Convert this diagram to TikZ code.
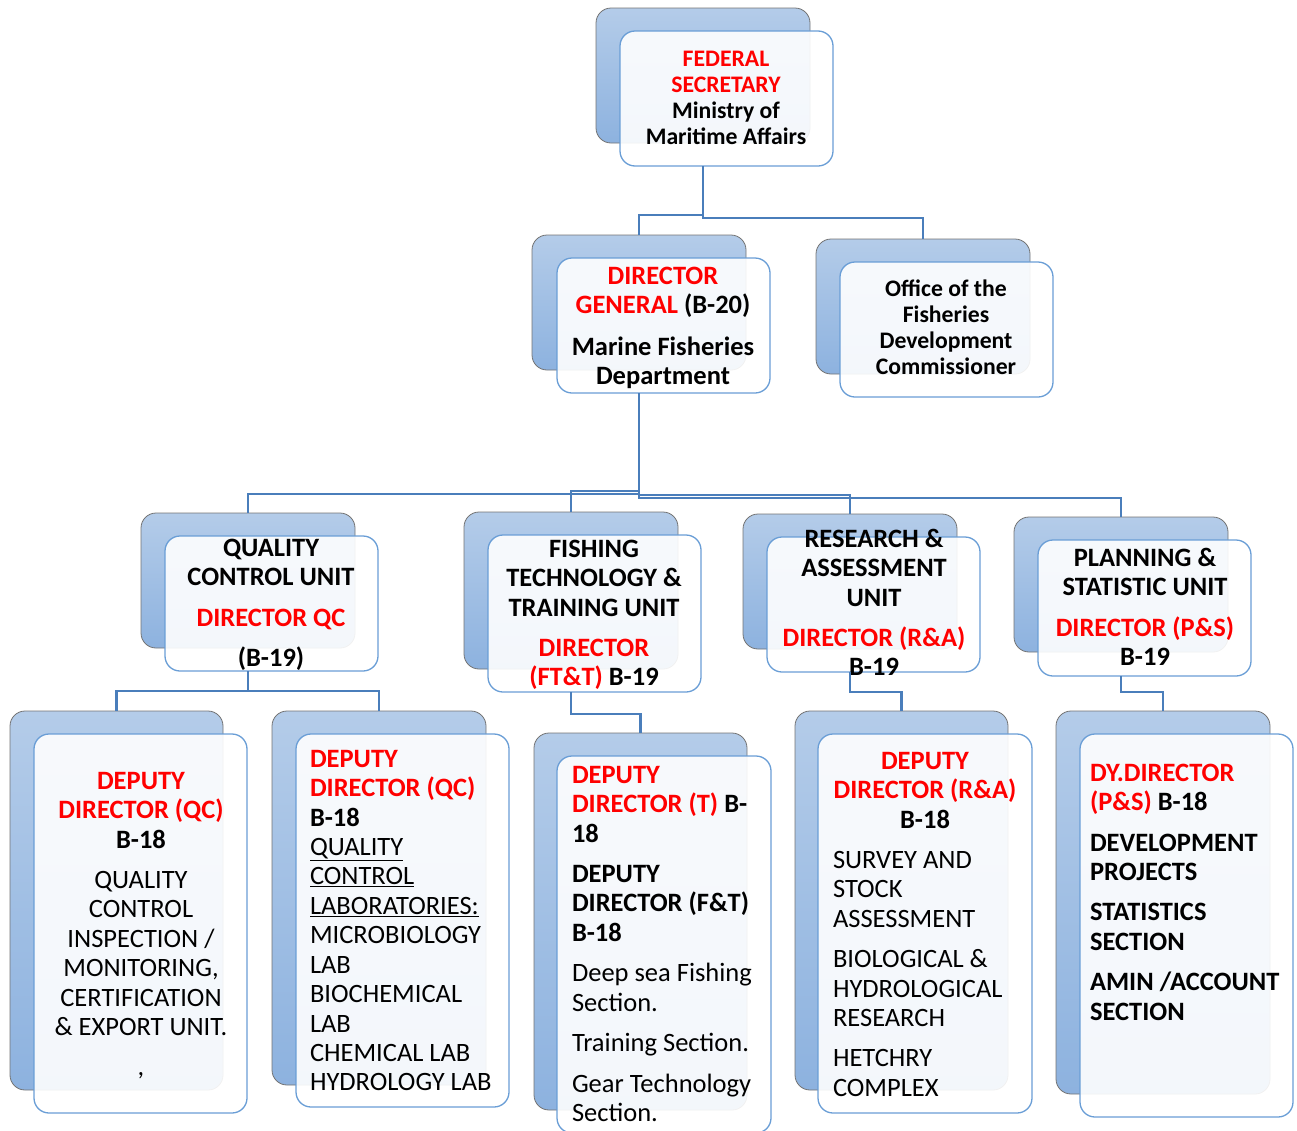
\documentclass[tikz,border=0pt]{standalone}
\usepackage{fontspec}
\setmainfont{Carlito}
\usepackage{xcolor}
\usepackage{tikz}
\definecolor{shtop}{HTML}{B4CCE9}
\definecolor{shbot}{HTML}{8DB2DF}
\definecolor{frline}{HTML}{6A9ED6}
\definecolor{linkc}{HTML}{4A7EBB}
\newcommand{\redtxt}[1]{\textcolor{red}{#1}}

\begin{document}
\begin{tikzpicture}[x=1pt,y=-1pt,
  shadowbox/.style={draw=black!55, line width=0.8pt, rounded corners=15pt, top color=shtop, bottom color=shbot, minimum width=214pt, inner sep=0pt, outer sep=0pt},
  frontbox/.style={draw=frline, line width=1.3pt, rounded corners=15pt, fill=white, fill opacity=0.9, minimum width=213pt, inner sep=0pt, outer sep=0pt},
  txtL/.style={font=\fontsize{26.5}{29.4}\selectfont, inner sep=0pt, outer sep=0pt},
  boldL/.style={font=\fontsize{26.5}{29.4}\selectfont\bfseries, inner sep=0pt, outer sep=0pt},
  boldS/.style={font=\fontsize{23.7}{26}\selectfont\bfseries, inner sep=0pt, outer sep=0pt},
  link/.style={draw=linkc, line width=2.4pt}]
\useasboundingbox (0,0) rectangle (1297,1130);
\clip (0,0) rectangle (1297,1130);

% top level
\node[shadowbox, minimum height=135pt] (fedS) at (703,75.5) {};
\node[frontbox, minimum height=135pt] (fed) at (726.5,98.5) {};
\node[boldS, anchor=north, align=center] (fedT) at (726,48.3) {\strut\redtxt{FEDERAL}\\\redtxt{SECRETARY}\\Ministry of\\Maritime Affairs};

% second level
\node[shadowbox, minimum height=135pt] (dgS) at (639,302.5) {};
\node[frontbox, minimum height=135pt] (dg) at (663.5,325.5) {};
\node[boldL, anchor=north, align=center] (dgT) at (663,263.8) {\strut\redtxt{DIRECTOR}\\\redtxt{GENERAL} (B-20)\\[12pt]Marine Fisheries\\Department};

\node[shadowbox, minimum height=135pt] (offS) at (923,306.5) {};
\node[frontbox, minimum height=135pt] (off) at (946.5,329.5) {};
\node[boldS, anchor=north, align=center] (offT) at (946,278.3) {\strut Office of the\\Fisheries\\Development\\Commissioner};

% units
\node[shadowbox, minimum height=135pt] (qcS) at (248,580.5) {};
\node[frontbox, minimum height=135pt] (qc) at (271.5,603.5) {};
\node[boldL, anchor=north, align=center] (qcT) at (271,535.8) {\strut QUALITY\\CONTROL UNIT\\[11pt]\redtxt{DIRECTOR QC}\\[11pt](B-19)};

\node[shadowbox, minimum height=157pt] (ftS) at (571,590.5) {};
\node[frontbox, minimum height=157pt] (ft) at (594.5,613.5) {};
\node[boldL, anchor=north, align=center] (ftT) at (594,536.8) {\strut FISHING\\TECHNOLOGY \&\\TRAINING UNIT\\[11pt]\redtxt{DIRECTOR}\\\redtxt{(FT\&T)} B-19};

\node[shadowbox, minimum height=135pt] (raS) at (850,581.5) {};
\node[frontbox, minimum height=135pt] (ra) at (873.5,604.5) {};
\node[boldL, anchor=north, align=center] (raT) at (874,526.8) {\strut RESEARCH \&\\ASSESSMENT\\UNIT\\[11pt]\redtxt{DIRECTOR (R\&A)}\\B-19};

\node[shadowbox, minimum height=135pt] (psS) at (1121,584.5) {};
\node[frontbox, minimum height=136pt] (ps) at (1144.5,608) {};
\node[boldL, anchor=north, align=center] (psT) at (1145,545.8) {\strut PLANNING \&\\STATISTIC UNIT\\[11pt]\redtxt{DIRECTOR (P\&S)}\\B-19};

% deputy directors
\node[shadowbox, minimum width=213pt, minimum height=379pt] (dq1S) at (116.5,900.5) {};
\node[frontbox, minimum height=379pt] (dq1) at (140.5,923.5) {};
\node[txtL, anchor=north, align=center] (dq1T) at (141,768.8) {\strut\textbf{\redtxt{DEPUTY}}\\\textbf{\redtxt{DIRECTOR (QC)}}\\\textbf{B-18}\\[11pt]QUALITY\\CONTROL\\INSPECTION /\\MONITORING,\\CERTIFICATION\\\& EXPORT UNIT.\\[11pt],};

\node[shadowbox, minimum height=374pt] (dq2S) at (379,898) {};
\node[frontbox, minimum height=373pt] (dq2) at (402.5,920.5) {};
\node[txtL, anchor=north west, align=left] (dq2T) at (310,746.8) {\strut\textbf{\redtxt{DEPUTY}}\\\textbf{\redtxt{DIRECTOR (QC)}}\\\textbf{B-18}\\\underline{QUALITY}\\\underline{CONTROL}\\\underline{LABORATORIES:}\\MICROBIOLOGY\\LAB\\BIOCHEMICAL\\LAB\\CHEMICAL LAB\\HYDROLOGY LAB};

\node[shadowbox, minimum width=213pt, minimum height=377pt] (ddtS) at (640.5,921.5) {};
\node[frontbox, minimum width=214pt, minimum height=377pt] (ddt) at (664,944.5) {};
\node[txtL, anchor=north west, align=left] (ddtT) at (572,762.8) {\strut\textbf{\redtxt{DEPUTY}}\\\textbf{\redtxt{DIRECTOR (T)} B-}\\\textbf{18}\\[11pt]\textbf{DEPUTY}\\\textbf{DIRECTOR (F\&T)}\\\textbf{B-18}\\[11pt]Deep sea Fishing\\Section.\\[11pt]Training Section.\\[11pt]Gear Technology\\Section.};

\node[shadowbox, minimum width=213pt, minimum height=379pt] (draS) at (901.5,900.5) {};
\node[frontbox, minimum width=214pt, minimum height=379pt] (dra) at (925,923.5) {};
\node[txtL, anchor=north, align=center] (draT) at (925,748.8) {\strut\textbf{\redtxt{DEPUTY}}\\\textbf{\redtxt{DIRECTOR (R\&A)}}\\\textbf{B-18}};
\node[txtL, anchor=north west, align=left] (draL) at (833,847.8) {\strut SURVEY AND\\STOCK\\ASSESSMENT\\[11pt]BIOLOGICAL \&\\HYDROLOGICAL\\RESEARCH\\[11pt]HETCHRY\\COMPLEX};

\node[shadowbox, minimum height=383pt] (dypS) at (1163,902.5) {};
\node[frontbox, minimum height=383pt] (dyp) at (1186.5,925.5) {};
\node[boldL, anchor=north west, align=left] (dypT) at (1090,760.8) {\strut\redtxt{DY.DIRECTOR}\\\redtxt{(P\&S)} B-18\\[11pt]DEVELOPMENT\\PROJECTS\\[11pt]STATISTICS\\SECTION\\[11pt]AMIN /ACCOUNT\\SECTION};

% connectors
\draw[link] (fedS.center |- fed.south) -- ++(0,49) -| (dgS.north);
\draw[link] (fedS.center |- fed.south) -- ++(0,52) -| (offS.north);
\draw[link] (dgS.center |- dg.south) -- ++(0,101) -| (qcS.north);
\draw[link] (dgS.center |- dg.south) -- ++(0,98) -| (ftS.north);
\draw[link] (dgS.center |- dg.south) -- ++(0,102) -| (raS.north);
\draw[link] (dgS.center |- dg.south) -- ++(0,105) -| (psS.north);
\draw[link] (qcS.center |- qc.south) -- ++(0,20) -| (dq1S.north);
\draw[link] (qcS.center |- qc.south) -- ++(0,20) -| (dq2S.north);
\draw[link] (ftS.center |- ft.south) -- ++(0,22) -| (ddtS.north);
\draw[link] (raS.center |- ra.south) -- ++(0,20) -| (draS.north);
\draw[link] (psS.center |- ps.south) -- ++(0,16) -| (dypS.north);
\end{tikzpicture}
\end{document}
